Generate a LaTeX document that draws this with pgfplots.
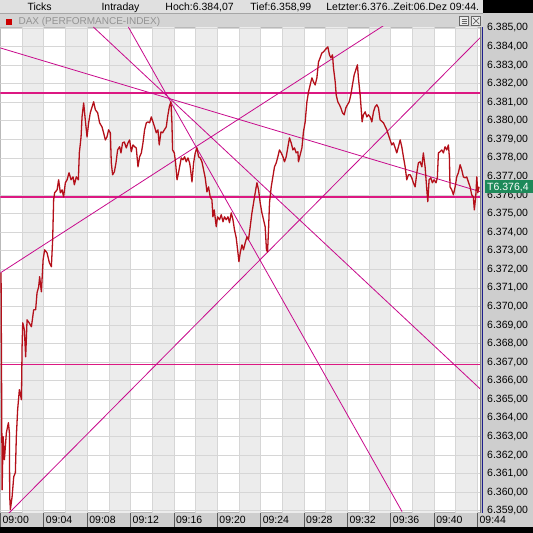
\documentclass[border=0pt]{standalone}
\usepackage{fontspec}
\setmainfont{Liberation Sans}
\usepackage{pgfplots}
\pgfplotsset{compat=1.18}
\definecolor{bandc}{RGB}{236,236,236}
\definecolor{gridc}{RGB}{214,214,214}
\definecolor{pricec}{RGB}{180,16,26}
\definecolor{hlc}{RGB}{220,24,130}
\definecolor{dlc}{RGB}{200,10,140}
\definecolor{panelc}{RGB}{206,206,206}
\definecolor{headc}{RGB}{224,224,224}
\definecolor{legbarc}{RGB}{212,212,212}
\definecolor{navyc}{RGB}{30,30,140}
\definecolor{lastgc}{RGB}{30,138,90}
\newcommand{\tf}{\fontsize{10.5}{12}\selectfont}
\begin{document}
\begin{tikzpicture}
\begin{scope}[x=1pt,y=1pt]
\fill[white] (0,0) rectangle (533,533);
\fill[panelc] (483,6) rectangle (533,520);
\fill[panelc] (0,6) rectangle (483,20);
\fill[black] (0,0) rectangle (533,6);
\fill[black] (483,520) rectangle (533,533);
\fill[headc] (0,520) rectangle (483,533);
\fill[legbarc] (0,506) rectangle (483,519.5);
\draw[gray!70] (0,519.5) -- (483,519.5);
\end{scope}
\begin{axis}[
  at={(0pt,20pt)}, anchor=south west,
  scale only axis, width=481pt, height=486pt,
  xmin=0, xmax=44.33, ymin=6358.90, ymax=6385.05,
  axis line style={draw=gray!55, line width=0.6pt},
  xtick={0,4,...,44},
  xticklabels={09:00,09:04,09:08,09:12,09:16,09:20,09:24,09:28,09:32,09:36,09:40,09:44},
  xtick pos=bottom,
  major tick length=0pt, minor tick length=0pt,
  xticklabel style={anchor=north west, inner sep=0pt, xshift=2pt, yshift=-3pt, font=\tf},
  ytick={6359,6360,...,6385},
  ytick pos=right, yticklabel pos=right,
  yticklabel style={anchor=west, inner sep=0pt, xshift=6pt, font=\tf},
  yticklabel={\pgfmathprintnumber[fixed,fixed zerofill,precision=2,use comma,1000 sep={.}]{\tick}},
  /pgf/number format/assume math mode=true,
]
% background bands
\fill[bandc] (axis cs:2,6358.90) rectangle (axis cs:4,6385.05);
\fill[bandc] (axis cs:6,6358.90) rectangle (axis cs:8,6385.05);
\fill[bandc] (axis cs:10,6358.90) rectangle (axis cs:12,6385.05);
\fill[bandc] (axis cs:14,6358.90) rectangle (axis cs:16,6385.05);
\fill[bandc] (axis cs:18,6358.90) rectangle (axis cs:20,6385.05);
\fill[bandc] (axis cs:22,6358.90) rectangle (axis cs:24,6385.05);
\fill[bandc] (axis cs:26,6358.90) rectangle (axis cs:28,6385.05);
\fill[bandc] (axis cs:30,6358.90) rectangle (axis cs:32,6385.05);
\fill[bandc] (axis cs:34,6358.90) rectangle (axis cs:36,6385.05);
\fill[bandc] (axis cs:38,6358.90) rectangle (axis cs:40,6385.05);
\fill[bandc] (axis cs:42,6358.90) rectangle (axis cs:44,6385.05);
% grid
\pgfplotsinvokeforeach{6359,6360,...,6385}{\draw[gridc, line width=0.6pt] (axis cs:0,#1) -- (axis cs:44.33,#1);}
\pgfplotsinvokeforeach{2,4,...,44}{\draw[gridc, line width=0.6pt] (axis cs:#1,6358.90) -- (axis cs:#1,6385.05);}
% horizontal levels
\addplot[draw=hlc, line width=1.4pt, no marks] coordinates {(0,6381.49) (44.33,6381.49)};
\addplot[draw=hlc, line width=1.4pt, no marks] coordinates {(0,6375.90) (44.33,6375.90)};
\addplot[draw=hlc, line width=1.4pt, no marks] coordinates {(0,6366.86) (44.33,6366.86)};
% trend lines
\addplot[draw=dlc, line width=0.8pt, no marks] coordinates {(0,6371.81) (44.33,6388.51)};
\addplot[draw=dlc, line width=0.8pt, no marks] coordinates {(0,6358.41) (44.33,6384.52)};
\addplot[draw=dlc, line width=0.8pt, no marks] coordinates {(0,6383.92) (44.33,6376.17)};
\addplot[draw=dlc, line width=0.8pt, no marks] coordinates {(8.57,6385.05) (44.33,6365.52)};
\addplot[draw=dlc, line width=0.8pt, no marks] coordinates {(11.80,6385.05) (37.05,6358.95)};
% price
\addplot[draw=pricec, line width=1.3pt, line join=round, no marks] table {
m p
0.06 6371.81
0.16 6360.13
0.25 6362.99
0.37 6361.75
0.55 6363.20
0.74 6363.74
0.83 6363.20
0.86 6359.76
0.92 6359.06
1.08 6359.76
1.23 6360.83
1.38 6361.05
1.47 6362.99
1.59 6364.44
1.75 6365.52
1.94 6364.98
2.00 6367.83
2.06 6369.12
2.21 6368.75
2.33 6367.29
2.46 6369.28
2.65 6369.12
2.86 6368.91
3.07 6369.82
3.25 6369.82
3.38 6370.74
3.53 6371.06
3.62 6371.60
3.78 6370.79
3.94 6372.51
4.08 6373.05
4.30 6372.89
4.52 6372.35
4.70 6372.14
4.82 6373.59
4.91 6375.74
5.00 6376.12
5.23 6376.28
5.37 6376.82
5.53 6376.12
5.69 6376.28
5.83 6375.90
5.99 6376.66
6.15 6376.82
6.33 6377.20
6.52 6376.82
6.70 6376.98
6.82 6376.55
7.00 6376.98
7.19 6376.82
7.28 6378.27
7.44 6379.13
7.53 6380.21
7.68 6380.96
7.83 6380.05
7.99 6379.13
8.14 6379.89
8.29 6380.43
8.60 6381.02
8.76 6380.59
8.97 6380.43
9.15 6379.89
9.37 6379.67
9.52 6379.35
9.68 6378.97
9.83 6379.13
9.98 6379.51
10.14 6379.35
10.23 6377.73
10.35 6377.09
10.51 6377.25
10.66 6377.73
10.81 6378.43
11.00 6378.60
11.12 6378.27
11.27 6378.81
11.43 6378.86
11.61 6378.54
11.77 6378.81
11.92 6378.97
12.07 6378.33
12.23 6378.70
12.38 6378.60
12.53 6378.54
12.69 6377.52
12.84 6378.06
13.00 6378.27
13.15 6378.81
13.30 6379.51
13.46 6379.89
13.61 6379.94
13.76 6379.89
13.92 6380.21
14.07 6379.94
14.22 6379.67
14.38 6379.35
14.53 6379.51
14.65 6378.70
14.81 6379.40
14.96 6379.35
15.12 6379.51
15.30 6379.67
15.42 6380.21
15.58 6380.75
15.73 6381.02
15.82 6379.89
15.88 6378.43
16.04 6378.27
16.16 6377.73
16.29 6376.82
16.43 6377.20
16.53 6377.52
16.68 6378.00
16.84 6377.90
16.99 6378.06
17.14 6377.79
17.30 6378.00
17.45 6377.73
17.51 6377.52
17.67 6376.71
17.82 6377.73
17.97 6378.27
18.13 6378.54
18.28 6378.06
18.43 6378.00
18.59 6377.79
18.74 6377.36
18.89 6376.93
19.05 6376.17
19.20 6376.44
19.35 6375.90
19.51 6375.74
19.60 6374.83
19.72 6375.20
19.91 6374.29
20.03 6374.83
20.21 6374.67
20.37 6374.94
20.53 6374.56
20.67 6374.83
20.83 6374.67
20.99 6374.83
21.13 6374.51
21.29 6375.04
21.45 6374.67
21.59 6374.13
21.75 6373.70
21.91 6372.89
22.00 6372.41
22.12 6372.89
22.28 6373.32
22.42 6373.05
22.58 6373.43
22.74 6373.75
22.88 6373.59
23.04 6374.29
23.20 6375.04
23.35 6375.58
23.50 6376.12
23.66 6376.66
23.81 6376.28
23.96 6375.58
24.12 6375.04
24.27 6374.67
24.42 6374.29
24.54 6373.05
24.64 6372.94
24.73 6374.13
24.82 6375.58
24.98 6376.44
25.13 6376.98
25.28 6377.52
25.44 6377.73
25.59 6378.06
25.74 6378.43
25.90 6378.27
26.06 6378.06
26.20 6377.79
26.36 6378.06
26.52 6378.60
26.66 6379.08
26.82 6378.81
26.98 6378.43
27.12 6378.54
27.28 6378.27
27.44 6378.33
27.49 6377.79
27.65 6378.17
27.81 6378.54
27.95 6379.40
28.11 6379.94
28.27 6381.02
28.42 6381.56
28.57 6381.93
28.73 6382.31
28.88 6382.09
29.03 6381.93
29.19 6382.31
29.34 6383.17
29.49 6383.39
29.65 6383.65
29.80 6383.71
29.95 6383.82
30.11 6383.92
30.20 6383.98
30.35 6383.55
30.48 6383.39
30.63 6383.55
30.72 6382.85
30.88 6382.09
30.97 6381.39
31.12 6381.02
31.27 6380.86
31.40 6380.69
31.55 6380.43
31.71 6380.32
31.86 6380.69
32.01 6380.86
32.17 6381.02
32.32 6381.39
32.47 6381.93
32.63 6382.47
32.78 6382.74
32.93 6383.01
33.02 6382.31
33.18 6381.39
33.27 6380.69
33.36 6379.94
33.48 6380.32
33.64 6380.48
33.80 6380.21
33.94 6380.32
34.10 6380.21
34.26 6379.94
34.41 6380.48
34.56 6380.75
34.72 6380.86
34.87 6380.69
35.02 6380.05
35.33 6379.89
35.64 6379.51
35.94 6378.97
36.10 6378.70
36.25 6378.81
36.41 6378.54
36.56 6378.27
36.71 6378.60
36.87 6378.97
37.02 6378.60
37.17 6378.06
37.33 6377.52
37.48 6376.82
37.63 6377.09
37.79 6377.09
37.94 6376.93
38.09 6376.66
38.25 6376.44
38.41 6377.20
38.55 6377.73
38.71 6377.79
38.87 6377.52
39.01 6378.27
39.17 6377.52
39.33 6376.28
39.42 6375.64
39.54 6376.82
39.70 6376.93
39.84 6376.66
40.00 6376.82
40.18 6376.66
40.30 6376.93
40.40 6378.27
40.55 6378.33
40.71 6378.43
40.86 6378.27
41.01 6378.60
41.17 6378.43
41.32 6378.70
41.41 6378.06
41.47 6376.44
41.63 6376.28
41.78 6376.01
41.94 6376.44
42.09 6376.98
42.24 6377.20
42.40 6377.63
42.55 6377.36
42.70 6376.98
42.86 6376.93
43.01 6376.98
43.16 6376.71
43.32 6376.44
43.47 6376.01
43.62 6375.90
43.71 6375.20
43.84 6375.90
43.94 6376.98
44.03 6376.12
44.15 6376.44
};
\end{axis}
\begin{scope}[x=1pt,y=1pt]
% separators in time band
\foreach \i in {0,...,11} {\draw[gray!70!black, line width=0.8pt] ({\i*43.41},6) -- ({\i*43.41},20);}
\draw[gray, line width=0.5pt] (480,20) -- (480,506);
\draw[navyc, line width=1.2pt] (482.6,20) -- (482.6,506);
% header
\node[anchor=base west, inner sep=0pt, font=\tf] at (27,522.5) {Ticks};
\node[anchor=base west, inner sep=0pt, font=\tf] at (101,522.5) {Intraday};
\node[anchor=base west, inner sep=0pt, font=\tf] at (165,522.5) {Hoch:6.384,07};
\node[anchor=base west, inner sep=0pt, font=\tf] at (250,522.5) {Tief:6.358,99};
\node[anchor=base west, inner sep=0pt, font=\tf] at (326,522.5) {Letzter:6.376..Zeit:06.Dez 09:44.};
% legend bar
\fill[red!80!black] (6,508) rectangle (12,514);
\node[anchor=base west, inner sep=0pt, font=\fontsize{10}{12}\selectfont, text=gray!85] at (18,508) {DAX (PERFORMANCE-INDEX)};
\draw[gray!80!black, fill=gray!15, line width=0.5pt] (459.5,507.5) rectangle (468.5,516.5);
\draw[gray!80!black, line width=0.5pt] (461.5,510) -- (466.5,510) (461.5,512) -- (466.5,512) (461.5,514) -- (466.5,514);
\draw[gray!80!black, fill=gray!15, line width=0.5pt] (471.5,507.5) rectangle (480.5,516.5);
\draw[gray!80!black, line width=0.7pt] (473,509) -- (479,515) (473,515) -- (479,509);
% last price
\fill[lastgc] (485,340) rectangle (533,353);
\node[anchor=base west, inner sep=0pt, font=\tf, text=white] at (487,342.5) {T6.376,4};
\end{scope}
\end{tikzpicture}
\end{document}
